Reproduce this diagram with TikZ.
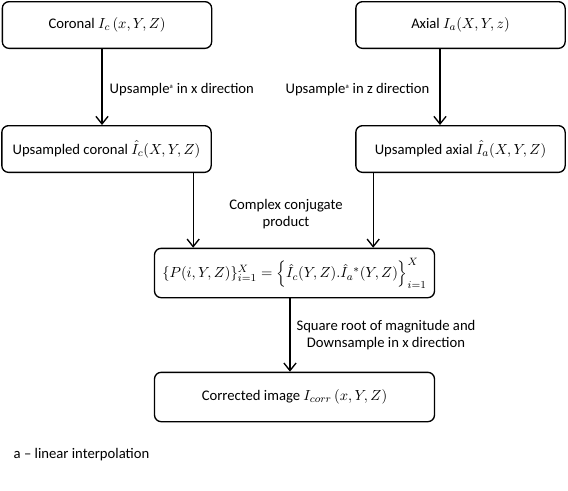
\documentclass[tikz,border=0pt]{standalone}
\usepackage{fontspec}
\setmainfont{Carlito}
\usepackage{amsmath}
\usetikzlibrary{arrows.meta, positioning}
\tikzset{
  flowArrow/.style={-{Straight Barb[length=2mm, width=3.2mm]}, line width=1pt},
  stepBox/.style={rectangle, rounded corners=5pt, draw, line width=1pt,
                  minimum width=157pt, minimum height=35pt, align=center,
                  font=\fontsize{11}{13}\selectfont},
  wideBox/.style={stepBox, minimum width=210pt, minimum height=37pt},
  noteText/.style={font=\fontsize{11}{12.5}\selectfont, align=center},
}

\begin{document}
\begin{tikzpicture}[x=0.75pt, y=-0.75pt]
    \useasboundingbox (0,0) rectangle (568,490);
    % input volumes
    \node[stepBox] (coronal) at (107,25) {Coronal $I_c\,(x,Y,Z)$};
    \node[stepBox] (axial) at (460.5,25) {Axial $I_a(X,Y,z)$};
    % upsampled volumes
    \node[stepBox] (upCor) at (106.5,149) {Upsampled coronal\ $\hat{I}_c(X,Y,Z)$};
    \node[stepBox] (upAx) at (460.5,149) {Upsampled axial\ $\hat{I}_a(X,Y,Z)$};
    % product and result
    \node[wideBox] (prod) at (294.5,273)
      {$\{P(i,Y,Z)\}_{i=1}^{X}=\left\{\hat{I}_c(Y,Z).\hat{I}_a{}^{*}(Y,Z)\right\}_{i=1}^{X}$};
    \node[wideBox] (result) at (294.5,397) {Corrected image $I_{corr}\,(x,Y,Z)$};
    % connectors
    \coordinate (corTop) at (102,48);
    \coordinate (axTop) at (440,48);
    \draw[flowArrow] (corTop) -- (corTop |- upCor.north);
    \draw[flowArrow] (axTop) -- (axTop |- upAx.north);
    \draw[flowArrow] ([xshift=65pt]upCor.south) coordinate (c1) -- (c1 |- prod.north);
    \draw[flowArrow] ([xshift=-65.5pt]upAx.south) coordinate (a1) -- (a1 |- prod.north);
    \draw[flowArrow] ([xshift=-3.4pt]prod.south) coordinate (p1) -- (p1 |- result.north);
    % labels
    \node[noteText, anchor=west] (lblX) at (105,90) {Upsample\textsuperscript{\tiny a} in x direction};
    \node[noteText, anchor=east] (lblZ) at (434,90) {Upsample\textsuperscript{\tiny a} in z direction};
    \node[noteText] (lblConj) at (286,214) {Complex conjugate\\product};
    \node[noteText] (lblSqrt) at (386,335) {Square root of magnitude and\\Downsample in x direction};
    \node[noteText, anchor=west] (foot) at (9,455) {a -- linear interpolation};
\end{tikzpicture}
\end{document}
